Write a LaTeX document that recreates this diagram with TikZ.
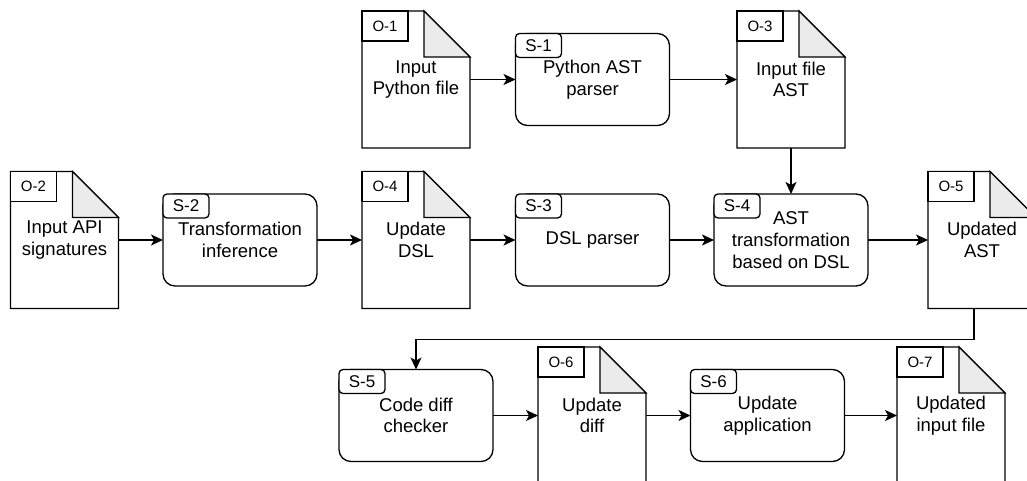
\documentclass[tikz,border=0pt]{standalone}
\usepackage{fontspec}
\setmainfont{Liberation Sans}
\usetikzlibrary{arrows.meta}
\definecolor{foldgray}{HTML}{EBEBEB}
\tikzset{
  lw/.style={line width=1.3pt},
  docbody/.style={draw=none,minimum width=108pt,minimum height=137pt,inner sep=0pt,outer sep=0pt,align=center,font=\fontsize{18.5}{21.7}\selectfont},
  docline/.style={lw,draw=black,line join=miter},
  docfold/.style={lw,draw=black,fill=foldgray},
  olabel/.style={lw,draw=black,fill=white,minimum width=46pt,minimum height=30pt,inner sep=0pt,outer sep=0pt,font=\fontsize{15}{17}\selectfont,anchor=north west},
  proc/.style={lw,draw=black,rounded corners=12pt,minimum width=154pt,minimum height=92pt,inner sep=0pt,outer sep=0pt,align=center,font=\fontsize{18.5}{21.7}\selectfont},
  slabel/.style={lw,draw=black,fill=white,rounded corners=4pt,minimum width=46pt,minimum height=24pt,inner sep=0pt,outer sep=0pt,font=\fontsize{17}{19}\selectfont,anchor=north west},
  conn/.style={lw,-{Stealth[length=12pt,width=11pt,inset=3pt]}},
}
\begin{document}
\begin{tikzpicture}[x=1pt,y=-1pt]
\useasboundingbox (0,0) rectangle (1027,481);
\clip (0,0) rectangle (1027,481);
% ---------- document nodes
\node[docbody] (o1) at (416,79.5) {Input\\Python file};
\node[docbody] (o3) at (791,79.5) {Input file\\AST};
\node[docbody] (o2) at (64.5,240) {Input API\\signatures};
\node[docbody] (o4) at (416,240) {Update\\DSL};
\node[docbody] (o5) at (982,240) {Updated\\AST};
\node[docbody] (o6) at (592,415.5) {Update\\diff};
\node[docbody] (o7) at (951,415.5) {Updated\\input file};
\foreach \d in {o1,o2,o3,o4,o5,o6,o7}{
  \draw[docline] (\d.north west) -- ([xshift=-46pt]\d.north east) -- ([yshift=-46pt]\d.north east) -- (\d.south east) -- (\d.south west) -- cycle;
  \filldraw[docfold] ([xshift=-46pt]\d.north east) -- ([xshift=-46pt,yshift=-46pt]\d.north east) -- ([yshift=-46pt]\d.north east) -- cycle;
}
\node[olabel] (o1l) at (o1.north west) {O-1};
\node[olabel] (o2l) at (o2.north west) {O-2};
\node[olabel] (o3l) at (o3.north west) {O-3};
\node[olabel] (o4l) at (o4.north west) {O-4};
\node[olabel] (o5l) at (o5.north west) {O-5};
\node[olabel] (o6l) at (o6.north west) {O-6};
\node[olabel] (o7l) at (o7.north west) {O-7};
% ---------- process nodes
\node[proc] (s1) at (592.5,79.5) {Python AST\\parser};
\node[proc] (s2) at (240,240) {Transformation\\inference};
\node[proc] (s3) at (592.5,240) {DSL parser};
\node[proc] (s4) at (791,240) {AST\\transformation\\based on DSL};
\node[proc] (s5) at (416,415.5) {Code diff\\checker};
\node[proc] (s6) at (767.5,415.5) {Update\\application};
\node[slabel] (s1l) at (s1.north west) {S-1};
\node[slabel] (s2l) at (s2.north west) {S-2};
\node[slabel] (s3l) at (s3.north west) {S-3};
\node[slabel] (s4l) at (s4.north west) {S-4};
\node[slabel] (s5l) at (s5.north west) {S-5};
\node[slabel] (s6l) at (s6.north west) {S-6};
% ---------- connectors
\draw[conn] (o1) -- (s1);
\draw[conn] (s1) -- (o3);
\draw[conn] (o3) -- (s4);
\draw[conn] (o2) -- (s2);
\draw[conn] (s2) -- (o4);
\draw[conn] (o4) -- (s3);
\draw[conn] (s3) -- (s4);
\draw[conn] (s4) -- (o5);
\coordinate (o5out) at ([xshift=-8pt]o5.south);
\draw[conn] (o5out) -- ++(0,31) -| (s5.north);
\draw[conn] (s5) -- (o6);
\draw[conn] (o6) -- (s6);
\draw[conn] (s6) -- (o7);
\end{tikzpicture}
\end{document}
